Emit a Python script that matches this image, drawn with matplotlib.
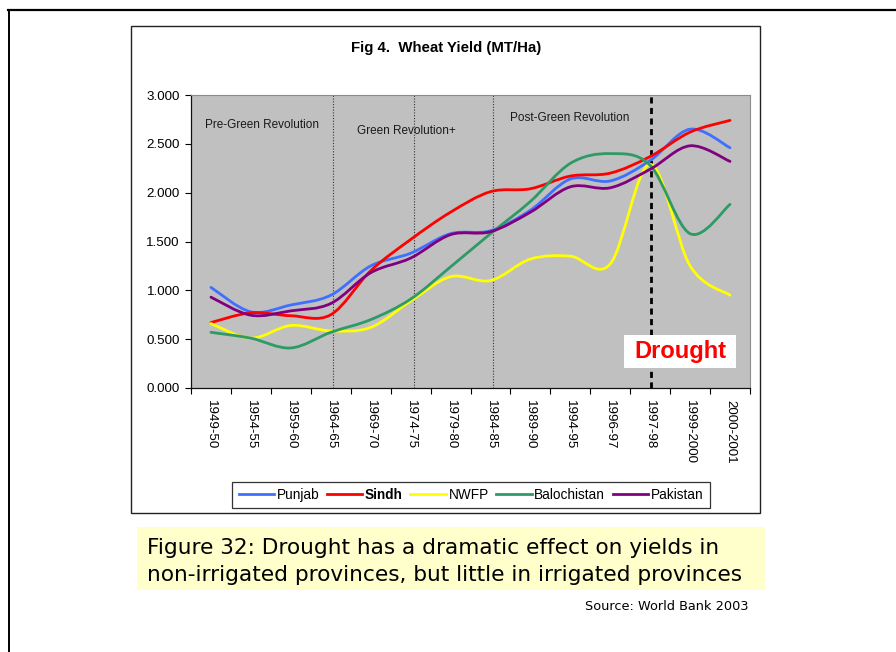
import numpy as np
import matplotlib
matplotlib.use("Agg")
import matplotlib.pyplot as plt
from matplotlib.path import Path
from matplotlib.patches import PathPatch, Rectangle
from matplotlib.lines import Line2D

plt.rcParams['font.family'] = ['Liberation Sans', 'DejaVu Sans']

# ---- data -------------------------------------------------------------
years = ["1949-50", "1954-55", "1959-60", "1964-65", "1969-70", "1974-75",
         "1979-80", "1984-85", "1989-90", "1994-95", "1996-97", "1997-98",
         "1999-2000", "2000-2001"]

punjab      = [1.03, 0.78, 0.85, 0.95, 1.25, 1.38, 1.58, 1.61, 1.82, 2.14, 2.12, 2.33, 2.65, 2.46]
sindh       = [0.67, 0.77, 0.74, 0.75, 1.20, 1.52, 1.80, 2.01, 2.04, 2.17, 2.20, 2.37, 2.62, 2.74]
nwfp        = [0.66, 0.51, 0.64, 0.585, 0.62, 0.89, 1.14, 1.10, 1.32, 1.35, 1.27, 2.29, 1.25, 0.95]
balochistan = [0.57, 0.51, 0.41, 0.57, 0.70, 0.91, 1.24, 1.58, 1.91, 2.30, 2.40, 2.28, 1.58, 1.88]
pakistan    = [0.93, 0.745, 0.79, 0.865, 1.18, 1.33, 1.57, 1.60, 1.80, 2.06, 2.05, 2.24, 2.48, 2.32]

series_names = ["Punjab", "Sindh", "NWFP", "Balochistan", "Pakistan"]
series_values = [punjab, sindh, nwfp, balochistan, pakistan]
series_colors = ["#3F6FFF", "#FF0000", "#FFFF00", "#2E9A66", "#800080"]

era_labels = ["Pre-Green Revolution", "Green Revolution+", "Post-Green Revolution"]
era_dividers = [3.055, 5.077, 7.059]
drought_at = 11.033


def smooth_path(values):
    """Excel-style smoothed line: cubic Bezier segments through every point."""
    pts = np.column_stack([np.arange(len(values), dtype=float), np.asarray(values, float)])
    n = len(pts)
    verts = [pts[0]]
    codes = [Path.MOVETO]
    for i in range(n - 1):
        p_prev = pts[i - 1] if i > 0 else pts[i]
        p_next2 = pts[i + 2] if i + 2 < n else pts[i + 1]
        c1 = pts[i] + (pts[i + 1] - p_prev) / 6.0
        c2 = pts[i + 1] - (p_next2 - pts[i]) / 6.0
        verts += [c1, c2, pts[i + 1]]
        codes += [Path.CURVE4] * 3
    return Path(verts, codes)


W, H = 896, 652
fig = plt.figure(figsize=(W / 100, H / 100), dpi=100)


def fx(px):
    return px / W


def fy(py):
    return 1 - py / H


# page frame (top and left rules)
fig.add_artist(Line2D([fx(8), 1.0], [fy(9.5), fy(9.5)], color="black", lw=1.6,
                      transform=fig.transFigure))
fig.add_artist(Line2D([fx(8.5), fx(8.5)], [fy(9.5), 0.0], color="black", lw=1.4,
                      transform=fig.transFigure))

# chart area box
fig.add_artist(Rectangle((fx(131), fy(513)), fx(760) - fx(131), fy(26) - fy(513),
                         transform=fig.transFigure, facecolor="white",
                         edgecolor="#222222", lw=1.0, zorder=0))

ax_left, ax_right, ax_top, ax_bottom = 191, 750, 95, 388
ax = fig.add_axes([fx(ax_left), fy(ax_bottom), fx(ax_right) - fx(ax_left),
                   fy(ax_top) - fy(ax_bottom)])
ax.set_facecolor("#C0C0C0")
ax.set_xlim(-0.5, len(years) - 0.5)
ax.set_ylim(0, 3.0)

# y axis
ax.set_yticks(np.arange(0, 3.01, 0.5))
ax.set_yticklabels([f"{v:.3f}" for v in np.arange(0, 3.01, 0.5)])
ax.tick_params(axis="y", direction="out", length=4, width=0.8, labelsize=9.6, pad=4)

# x axis: tick marks between categories, labels at the categories
ax.set_xticks(np.arange(-0.5, len(years), 1.0))
ax.set_xticklabels([])
ax.set_xticks(np.arange(len(years)), minor=True)
ax.set_xticklabels(years, minor=True, rotation=-90, fontsize=9.6, va="top", ha="center")
ax.tick_params(axis="x", which="major", direction="out", length=4, width=0.8)
ax.tick_params(axis="x", which="minor", length=0, pad=9)

for side in ("left", "bottom"):
    ax.spines[side].set_color("#111111")
    ax.spines[side].set_linewidth(0.9)
for side in ("top", "right"):
    ax.spines[side].set_color("#8C8C8C")
    ax.spines[side].set_linewidth(0.8)

# era dividers and drought marker
for xd in era_dividers:
    ax.axvline(xd, color="#333333", lw=0.8, linestyle=(0, (1, 1.5)), zorder=1)
ax.axvline(drought_at, color="black", lw=2.0, linestyle=(0, (2.2, 1.6)), zorder=1)

# series
for vals, col in zip(series_values, series_colors):
    ax.add_patch(PathPatch(smooth_path(vals), facecolor="none", edgecolor=col,
                           lw=2.0, zorder=3, capstyle="round", joinstyle="round"))

# era labels
ax.text(-0.15, 2.694, era_labels[0], fontsize=8.5, color="#1a1a1a", va="center", ha="left")
ax.text(3.66, 2.633, era_labels[1], fontsize=8.5, color="#1a1a1a", va="center", ha="left")
ax.text(7.48, 2.765, era_labels[2], fontsize=8.5, color="#1a1a1a", va="center", ha="left")

# drought label
ax.add_patch(Rectangle((0.7746, 0.068), 0.2004, 0.113, transform=ax.transAxes,
                       facecolor="white", edgecolor="none", zorder=4))
ax.text(0.875, 0.1245, "Drought", transform=ax.transAxes, color="#FF0000",
        fontsize=17, fontweight="bold", ha="center", va="center", zorder=5)

# title
fig.text(fx(446), fy(48), "Fig 4.  Wheat Yield (MT/Ha)", fontsize=10.8,
         fontweight="bold", ha="center", va="center")

# legend
handles = [Line2D([], [], color=c, lw=2.0) for c in series_colors]
leg = fig.legend(handles, series_names, loc="center",
                 bbox_to_anchor=(fx((233 + 709) / 2), fy(495)), ncol=5,
                 fontsize=9.8, frameon=True, fancybox=False, edgecolor="black",
                 handlelength=2.6, handletextpad=0.2, columnspacing=0.55,
                 borderpad=0.45, borderaxespad=0)
leg.get_frame().set_linewidth(0.9)
for t in leg.get_texts():
    if t.get_text() == "Sindh":
        t.set_fontweight("bold")

# caption
fig.add_artist(Rectangle((fx(137), fy(590)), fx(765) - fx(137), fy(527) - fy(590),
                         transform=fig.transFigure, facecolor="#FFFFCC",
                         edgecolor="none", zorder=0))
fig.text(fx(147), fy(548), "Figure 32: Drought has a dramatic effect on yields in",
         fontsize=15.6, family="DejaVu Sans", ha="left", va="center")
fig.text(fx(147), fy(575), "non-irrigated provinces, but little in irrigated provinces",
         fontsize=15.6, family="DejaVu Sans", ha="left", va="center")
fig.text(fx(748), fy(607), "Source: World Bank 2003", fontsize=9.3,
         family="DejaVu Sans", ha="right", va="center")

fig.savefig("out.png", dpi=100)
